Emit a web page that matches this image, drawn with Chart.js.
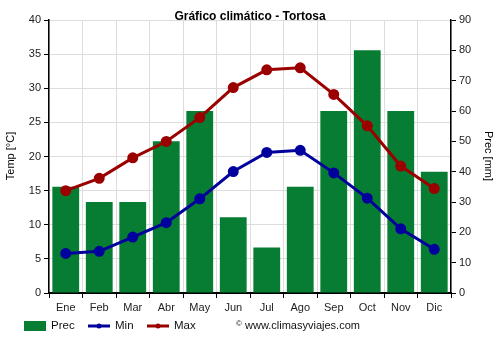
<!DOCTYPE html>
<html>
<head>
<meta charset="utf-8">
<script src="https://cdn.jsdelivr.net/npm/chart.js@4/dist/chart.umd.min.js"></script>
<style>
  html, body { margin: 0; padding: 0; background: #fff; }
  #wrap { width: 500px; height: 350px; }
</style>
</head>
<body>
<div id="wrap"><canvas id="c" width="500" height="350"></canvas></div>
<script>
const months = ['Ene', 'Feb', 'Mar', 'Abr', 'May', 'Jun', 'Jul', 'Ago', 'Sep', 'Oct', 'Nov', 'Dic'];
const precip = [35, 30, 30, 50, 60, 25, 15, 35, 60, 80, 60, 40];
const tempMin = [5.8, 6.1, 8.2, 10.3, 13.8, 17.8, 20.6, 20.9, 17.6, 13.9, 9.4, 6.4];
const tempMax = [15.0, 16.8, 19.8, 22.2, 25.7, 30.1, 32.7, 33.0, 29.1, 24.5, 18.6, 15.3];
const titleText = 'Gráfico climático - Tortosa';
const creditText = 'www.climasyviajes.com';

const FONT = '"Liberation Sans", Arial, sans-serif';
const GREEN = '#067d32';
const BLUE = '#00009c';
const RED = '#9b0000';

// Title, axis titles, legend and credit line drawn on the canvas
const decor = {
  id: 'decor',
  afterDraw(chart) {
    const ctx = chart.ctx;
    ctx.save();
    ctx.fillStyle = '#000';
    ctx.font = 'bold 12px ' + FONT;
    ctx.textAlign = 'center';
    ctx.textBaseline = 'middle';
    ctx.fillText(titleText, 250, 17);

    ctx.font = '11px ' + FONT;
    ctx.save();
    ctx.translate(11, 156);
    ctx.rotate(-Math.PI / 2);
    ctx.fillText('Temp [°C]', 0, 0);
    ctx.restore();
    ctx.save();
    ctx.translate(488, 156);
    ctx.rotate(Math.PI / 2);
    ctx.fillText('Prec [mm]', 0, 0);
    ctx.restore();

    // legend
    const ly = 326;
    ctx.textAlign = 'left';
    ctx.font = '11.5px ' + FONT;
    ctx.fillStyle = GREEN;
    ctx.fillRect(24, 321, 22, 10);
    ctx.fillStyle = '#111';
    ctx.fillText('Prec', 51, ly);

    ctx.strokeStyle = BLUE;
    ctx.lineWidth = 3;
    ctx.beginPath(); ctx.moveTo(88, ly); ctx.lineTo(110, ly); ctx.stroke();
    ctx.fillStyle = BLUE;
    ctx.beginPath(); ctx.arc(99, ly, 2.5, 0, Math.PI * 2); ctx.fill();
    ctx.fillStyle = '#111';
    ctx.fillText('Min', 115, ly);

    ctx.strokeStyle = RED;
    ctx.beginPath(); ctx.moveTo(147, ly); ctx.lineTo(169, ly); ctx.stroke();
    ctx.fillStyle = RED;
    ctx.beginPath(); ctx.arc(158, ly, 2.5, 0, Math.PI * 2); ctx.fill();
    ctx.fillStyle = '#111';
    ctx.fillText('Max', 174, ly);

    ctx.font = '8px ' + FONT;
    ctx.fillText('©', 236, ly - 2);
    ctx.font = '11px ' + FONT;
    ctx.fillText(creditText, 245, ly);
    ctx.restore();
  }
};

new Chart(document.getElementById('c'), {
  data: {
    labels: months,
    datasets: [
      {
        type: 'line', label: 'Min', data: tempMin, yAxisID: 'y',
        borderColor: BLUE, backgroundColor: BLUE, borderWidth: 3,
        pointRadius: 4, pointHoverRadius: 4, tension: 0, order: 1
      },
      {
        type: 'line', label: 'Max', data: tempMax, yAxisID: 'y',
        borderColor: RED, backgroundColor: RED, borderWidth: 3,
        pointRadius: 4, pointHoverRadius: 4, tension: 0, order: 0
      },
      {
        type: 'bar', label: 'Prec', data: precip, yAxisID: 'y1',
        backgroundColor: GREEN, borderWidth: 0,
        barPercentage: 0.8, categoryPercentage: 1.0, order: 2
      }
    ]
  },
  options: {
    responsive: false,
    animation: false,
    events: [],
    layout: { padding: { top: 20, bottom: 37, left: 0, right: 0 } },
    plugins: { legend: { display: false }, title: { display: false }, tooltip: { enabled: false } },
    scales: {
      x: {
        offset: true,
        grid: { offset: true, color: '#dddddd', tickColor: '#000', tickLength: 5, drawTicks: true },
        border: { color: '#000', width: 2 },
        ticks: { color: '#222', font: { family: FONT, size: 11 }, padding: 3, maxRotation: 0 },
        afterFit(s) { s.height = 20; }
      },
      y: {
        position: 'left', min: 0, max: 40,
        grid: { color: '#dddddd', tickColor: '#000', tickLength: 5 },
        border: { color: '#000', width: 1.5 },
        ticks: { stepSize: 5, color: '#222', font: { family: FONT, size: 11 }, padding: 3 },
        afterFit(s) { s.width = 49; }
      },
      y1: {
        position: 'right', min: 0, max: 90,
        grid: { drawOnChartArea: false, tickColor: '#000', tickLength: 5 },
        border: { color: '#000', width: 1.5 },
        ticks: { stepSize: 10, color: '#222', font: { family: FONT, size: 11 }, padding: 3 },
        afterFit(s) { s.width = 49; }
      }
    }
  },
  plugins: [decor]
});
</script>
</body>
</html>
